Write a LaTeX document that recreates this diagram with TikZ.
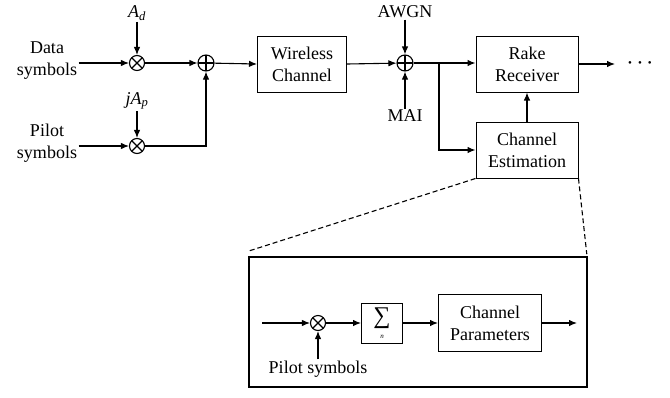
\documentclass[tikz,border=0pt]{standalone}
\usepackage{fontspec}
\setmainfont{Liberation Serif}
\usetikzlibrary{arrows.meta}
\begin{document}
\begin{tikzpicture}[x=1pt,y=-1pt,
  font=\fontsize{18}{22}\selectfont,
  line width=1.1pt,
  arr/.style={-{Latex[length=8pt,width=6.5pt]}},
  lbl/.style={align=center,inner sep=1pt},
  blk/.style={draw,line width=1pt,align=center,inner sep=2pt},
  mul/.style={draw,circle,minimum size=15pt,inner sep=0pt,line width=1.1pt,
    path picture={\draw[line width=1.1pt] (path picture bounding box.north west)--(path picture bounding box.south east)
      (path picture bounding box.north east)--(path picture bounding box.south west);}},
  add/.style={draw,circle,minimum size=16pt,inner sep=0pt,line width=1.1pt,
    path picture={\draw[line width=1.1pt] (path picture bounding box.north)--(path picture bounding box.south)
      (path picture bounding box.east)--(path picture bounding box.west);}},
  dsh/.style={dashed,dash pattern=on 5pt off 3pt,line width=1.1pt}
]
\useasboundingbox (0,0) rectangle (670,397);

% top row
\node[lbl] (data) at (47,61) {Data\\symbols};
\node[lbl] (pilot) at (47,143) {Pilot\\symbols};
\node[mul] (m1) at (137,63) {};
\node[mul] (m2) at (137,146) {};
\node[lbl] (ad) at (137,13) {\itshape A\textsubscript{d}};
\node[lbl] (jap) at (137,101) {\itshape jA\textsubscript{p}};
\node[add] (a1) at (206,63) {};
\node[blk,minimum width=89pt,minimum height=56pt] (wc) at (302,64) {Wireless\\Channel};
\node[add] (a2) at (405,63) {};
\node[lbl] (awgn) at (405,12) {AWGN};
\node[lbl] (mai) at (405,116) {MAI};
\node[blk,minimum width=102pt,minimum height=56pt] (rake) at (527,64) {Rake\\Receiver};
\node[blk,minimum width=102pt,minimum height=56pt] (ce) at (527,150) {Channel\\Estimation};
\node[lbl,font=\fontsize{11}{11}\selectfont] (dots) at (640,64) {\textbullet\hspace{6pt}\textbullet\hspace{6pt}\textbullet};
\coordinate (br) at (439,63);
\coordinate (rout) at (615,64);

\draw[arr] (data.east |- m1) -- (m1);
\draw[arr] (pilot.east |- m2) -- (m2);
\draw[arr] (ad.south) -- (m1);
\draw[arr] (jap.south) -- (m2);
\draw[arr] (m1) -- (a1);
\draw[arr] (m2) -| (a1);
\draw[arr] (a1) -- (wc.west);
\draw[arr] (wc.east) -- (a2);
\draw[arr] (awgn.south) -- (a2);
\draw[arr] (mai.north) -- (a2);
\draw[arr] (a2) -- (rake.west |- a2);
\draw[arr] (br) |- (ce.west);
\draw[arr] (ce.north) -- (rake.south);
\draw[arr] (rake.east) -- (rout);

% inset
\node[draw,line width=1.6pt,minimum width=338pt,minimum height=130pt,inner sep=0pt] (inset) at (418,322) {};
\draw[dsh] (ce.south west) -- ([yshift=5pt]inset.north west);
\draw[dsh] (ce.south east) -- ([yshift=2pt,xshift=-1pt]inset.north east);

\coordinate (in) at (262,323);
\node[mul] (m3) at (318,323) {};
\node[lbl] (ps) at (318,369) {Pilot symbols};
\node[blk,minimum width=41pt,minimum height=40pt,inner sep=0pt] (sum) at (382,323) {};
\node[inner sep=0pt,font=\fontsize{24}{24}\selectfont] (sig) at (382,318) {∑};
\node[inner sep=0pt,font=\fontsize{7}{7}\selectfont\itshape] (nn) at (382,337) {n};
\node[blk,minimum width=103pt,minimum height=57pt] (cp) at (490,323) {Channel\\Parameters};
\coordinate (cpout) at (577,323);

\draw[arr] (in) -- (m3);
\draw[arr] (ps.north) -- (m3);
\draw[arr] (m3) -- (sum.west);
\draw[arr] (sum.east) -- (cp.west);
\draw[arr] (cp.east) -- (cpout);
\end{tikzpicture}
\end{document}
